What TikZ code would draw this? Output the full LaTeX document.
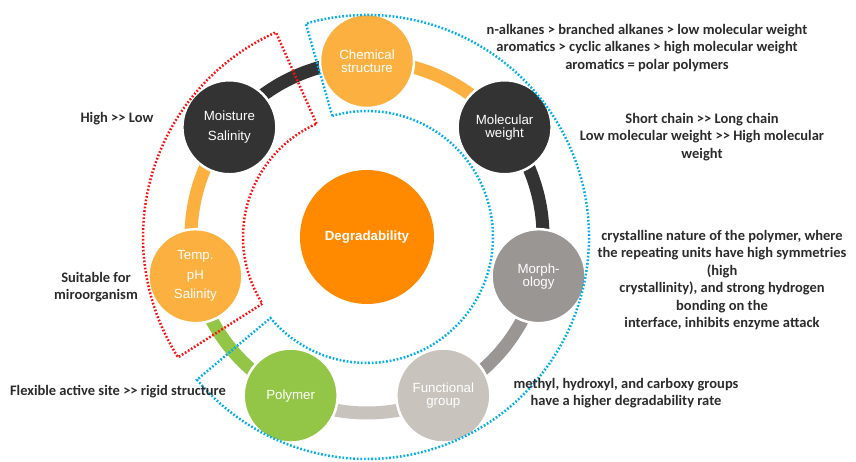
\documentclass[tikz,border=0pt]{standalone}
\usepackage{fontspec}
\setmainfont{Liberation Sans}
\newfontfamily\notefont{Carlito}
\usetikzlibrary{calc,positioning,backgrounds}

\definecolor{darkcol}{HTML}{333333}
\definecolor{yelcol}{HTML}{FBB040}
\definecolor{graycol}{HTML}{9A9694}
\definecolor{lgraycol}{HTML}{C8C3BD}
\definecolor{greencol}{HTML}{93C647}
\definecolor{degcol}{HTML}{FF8A00}
\definecolor{bluedot}{HTML}{00AEEF}
\definecolor{reddot}{HTML}{FF1010}
\definecolor{txtcol}{HTML}{2B2B2B}

\tikzset{
  ring/.style={circle, draw=white, line width=2.5pt, minimum size=94pt, inner sep=0pt,
    text=white, align=center, font=\fontsize{13.3}{13}\selectfont},
  loose/.style={font=\fontsize{13.3}{19.5}\selectfont},
  link/.style={line width=13pt, bend left=25.71, looseness=0.9},
  note/.style={text=txtcol, align=center, font=\notefont\bfseries\fontsize{14.5}{17.4}\selectfont},
  zone/.style={line width=2.5pt, dash pattern=on 1.7pt off 1.9pt},
}

\begin{document}
\begin{tikzpicture}[x=1pt, y=1pt]
    \useasboundingbox (0,0) rectangle (856,462);
    \def\R{176pt}

    % Centre
    \node[circle, fill=degcol, minimum size=134pt, inner sep=0pt, text=white,
      font=\bfseries\fontsize{13.3}{13}\selectfont] (deg) at (367,225) {Degradability};

    % Ring of factors
    \node[ring, fill=yelcol] (chem) at ($(deg)+(90:\R)$) {Chemical\\structure};
    \node[ring, fill=darkcol] (mol) at ($(deg)+(38.57:\R)$) {Molecular\\weight};
    \node[ring, fill=graycol] (morph) at ($(deg)+(-12.86:\R)$) {Morph-\\ology};
    \node[ring, fill=lgraycol] (func) at ($(deg)+(-64.29:\R)$) {Functional\\group};
    \node[ring, fill=greencol] (poly) at ($(deg)+(-115.71:\R)$) {Polymer};
    \node[ring, loose, fill=yelcol] (temp) at ($(deg)+(-167.14:\R)$) {Temp.\\pH\\Salinity};
    \node[ring, loose, fill=darkcol] (moist) at ($(deg)+(141.43:\R)$) {Moisture\\Salinity};

    % Links between neighbours
    \begin{scope}[on background layer]
        \draw[link, darkcol] (moist.center) to (chem.center);
        \draw[link, yelcol] (chem.center) to (mol.center);
        \draw[link, darkcol] (mol.center) to (morph.center);
        \draw[link, graycol] (morph.center) to (func.center);
        \draw[link, lgraycol] (func.center) to (poly.center);
        \draw[link, greencol] (poly.center) to (temp.center);
        \draw[link, yelcol] (temp.center) to (moist.center);
    \end{scope}

    % Environmental factors (red) and polymer factors (blue)
    \draw[zone, reddot] ($(deg)+(114:124pt)$) -- ($(deg)+(114:224pt)$)
        arc[start angle=114, end angle=212.5, radius=224pt]
        -- ($(deg)+(212.5:124pt)$) arc[start angle=212.5, end angle=114, radius=124pt] -- cycle;
    \draw[zone, bluedot] ($(deg)+(106:126pt)$) -- ($(deg)+(106:222pt)$)
        arc[start angle=106, end angle=-140, radius=222pt]
        -- ($(deg)+(220:126pt)$) arc[start angle=-140, end angle=106, radius=126pt] -- cycle;

    % Notes
    \node[note] (n-chem) at (647,414) {n-alkanes > branched alkanes > low molecular weight\\aromatics > cyclic alkanes > high molecular weight\\aromatics = polar polymers};
    \node[note] (n-mol) at (702,325) {Short chain >> Long chain\\Low molecular weight >> High molecular\\weight};
    \node[note] (n-morph) at (722,182) {crystalline nature of the polymer, where\\the repeating units have high symmetries\\(high\\crystallinity), and strong hydrogen\\bonding on the\\interface, inhibits enzyme attack};
    \node[note] (n-func) at (626,69) {methyl, hydroxyl, and carboxy groups\\have a higher degradability rate};
    \node[note] (n-poly) at (118,70) {Flexible active site >> rigid structure};
    \node[note] (n-temp) at (96,175) {Suitable for\\miroorganism};
    \node[note] (n-moist) at (117,343) {High >> Low};
\end{tikzpicture}
\end{document}
